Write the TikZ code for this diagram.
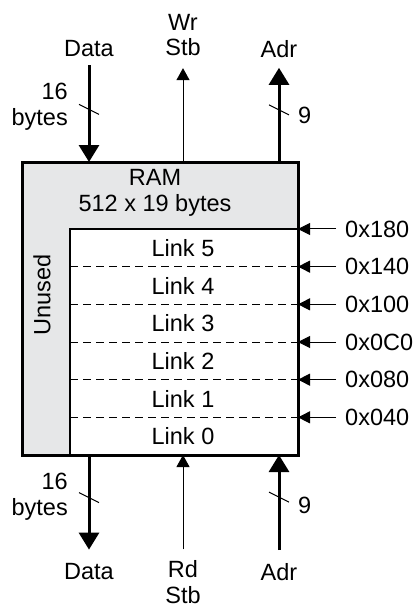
\documentclass[tikz,border=0pt]{standalone}
\usepackage{fontspec}
\setmainfont{Liberation Sans}
\usetikzlibrary{arrows.meta,positioning,calc}
\definecolor{unusedgray}{RGB}{230,231,232}
\tikzset{
  mem/.style={draw, line width=3pt, fill=unusedgray, minimum width=276pt, minimum height=293pt, inner sep=0pt, outer sep=0pt},
  bus/.style={line width=3pt, -{Triangle[length=17pt, width=20pt]}},
  sig/.style={line width=0.9pt, -{Triangle[length=12pt, width=13pt]}},
  ptr/.style={line width=1pt, -{Triangle[length=12pt, width=12pt]}},
  lbl/.style={font=\fontsize{23.5}{25.5}\selectfont, inner sep=0pt, align=center},
  sep/.style={line width=1pt, dash pattern=on 8pt off 5pt},
  slash/.style={line width=1pt}
}
\begin{document}
\begin{tikzpicture}[x=1pt, y=-1pt]
  \useasboundingbox (0,0) rectangle (414,607);
  \node[mem] (ram) at (160,308.5) {};
  % link area
  \coordinate (lnk) at (70,229);
  \fill[white] (lnk) rectangle (ram.south east);
  \draw[line width=2pt] (lnk -| ram.east) -- (lnk) -- (lnk |- ram.south);
  \draw[line width=3pt] (ram.north west) rectangle (ram.south east);
  \node[lbl] (title) at (155,193) {RAM\\512 x 19 bytes};
  \node[lbl, rotate=90] (unused) at (42,295) {Unused};
  \foreach \k in {0,...,5}
    \node[lbl] (link\k) at (183,{455-(\k+0.5)*37.667}) {Link \k};
  \foreach \a [count=\k] in {040,080,0C0,100,140,180} {
    \node[lbl, anchor=west] (adr\k) at (345,{455-\k*37.667}) {0x\a};
    \draw[ptr] ([xshift=-9pt]adr\k.west) -- (adr\k.west -| ram.east);
  }
  \foreach \k in {1,...,5}
    \draw[sep] (lnk |- adr\k.west) -- (adr\k.west -| ram.east);
  % write side
  \node[lbl] (dinT) at (89,49) {Data};
  \node[lbl] (wr) at (183,35) {Wr\\Stb};
  \node[lbl] (adrT) at (279,49) {Adr};
  \draw[bus] ([yshift=-8pt]dinT.south) -- (dinT.south |- ram.north);
  \draw[sig] (wr.south |- ram.north) -- ([yshift=-12pt]wr.south);
  \draw[bus] (adrT.south |- ram.north) -- ([yshift=-10pt]adrT.south);
  \draw[slash] ($(dinT.south)+(-10,47)$) -- ++(20,10);
  \draw[slash] ($(adrT.south)+(-10,47)$) -- ++(20,10);
  \node[lbl, align=right, anchor=north east] (dinTw) at (68,83) {16\\bytes};
  \node[lbl, anchor=west] (adrTw) at (298,115) {9};
  % read side
  \node[lbl] (doutB) at (89,572) {Data};
  \node[lbl] (rd) at (183,582) {Rd\\Stb};
  \node[lbl] (adrB) at (279,572) {Adr};
  \draw[bus] (doutB.north |- ram.south) -- ([yshift=14pt]doutB.north);
  \draw[sig] ([yshift=11pt]rd.north) -- (rd.north |- ram.south);
  \draw[bus] ([yshift=13pt]adrB.north) -- (adrB.north |- ram.south);
  \draw[slash] ($(doutB.north)+(-10,-71)$) -- ++(20,10);
  \draw[slash] ($(adrB.north)+(-10,-71)$) -- ++(20,10);
  \node[lbl, align=right, anchor=north east] (doutBw) at (68,473) {16\\bytes};
  \node[lbl, anchor=west] (adrBw) at (298,505) {9};
\end{tikzpicture}
\end{document}
